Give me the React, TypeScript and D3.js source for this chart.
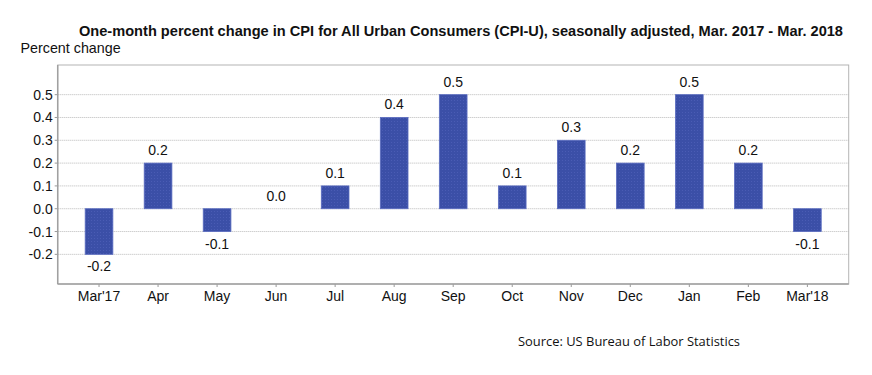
import React from "react";
import * as d3 from "d3";

const categories = ["Mar'17", "Apr", "May", "Jun", "Jul", "Aug", "Sep", "Oct", "Nov", "Dec", "Jan", "Feb", "Mar'18"];
const values = [-0.2, 0.2, -0.1, 0.0, 0.1, 0.4, 0.5, 0.1, 0.3, 0.2, 0.5, 0.2, -0.1];
const yTicks = [-0.2, -0.1, 0.0, 0.1, 0.2, 0.3, 0.4, 0.5];
const title = "One-month percent change in CPI for All Urban Consumers (CPI-U), seasonally adjusted, Mar. 2017 - Mar. 2018";

const W = 872, H = 375;
const L = 57.7, R = 848.7, T = 65, B = 284;

export default function App() {
  const x = d3.scalePoint<string>().domain(categories).range([L, R]).padding(0.7);
  const y = d3.scaleLinear().domain([-0.33, 0.63]).range([B, T]);
  const bw = 27.7;
  const font = "Arial, 'Liberation Sans', sans-serif";
  return (
    <svg width={W} height={H} style={{ position: "absolute", left: 0, top: 0, background: "#fff" }} fontFamily={font}>
      <defs>
        <pattern id="dots" width="3" height="3" patternUnits="userSpaceOnUse">
          <rect width="3" height="3" fill="#3b4fa7" />
          <rect x="1" y="1" width="1" height="1" fill="#4a5cb4" />
        </pattern>
      </defs>
      <text x={79} y={35.5} fontWeight="bold" fontSize={14} fill="#111" textLength={764} lengthAdjust="spacingAndGlyphs">{title}</text>
      <text x={20.5} y={53} fontSize={14.3} fill="#111">Percent change</text>
      <rect x={L} y={T} width={R - L} height={B - T} fill="none" stroke="#b4b4b4" strokeWidth={1} />
      {yTicks.map((t) => (
        <g key={t}>
          <line x1={L} x2={R} y1={y(t)} y2={y(t)} stroke="#b8b8b8" strokeWidth={1} strokeDasharray="1,1" />
          <line x1={L - 3} x2={L} y1={y(t)} y2={y(t)} stroke="#999" />
          <text x={52.7} y={y(t) + 5} textAnchor="end" fontSize={14} fill="#111">{t.toFixed(1)}</text>
        </g>
      ))}
      {categories.map((c, i) => {
        const v = values[i];
        const cx = x(c)!;
        const y0 = y(0), y1 = y(v);
        return (
          <g key={c}>
            {v !== 0 && (
              <rect x={cx - bw / 2} y={Math.min(y0, y1)} width={bw} height={Math.abs(y1 - y0)} fill="url(#dots)" stroke="#5a6cc0" strokeWidth={0.8} />
            )}
            <text x={cx} y={v >= 0 ? y1 - 8 : y1 + 17} textAnchor="middle" fontSize={14} fill="#111">{v.toFixed(1)}</text>
            <line x1={cx} x2={cx} y1={B} y2={B + 3} stroke="#999" />
            <text x={cx} y={300.5} textAnchor="middle" fontSize={14} fill="#111">{c}</text>
          </g>
        );
      })}
      <line x1={L} x2={L} y1={T} y2={B} stroke="#a0a0a0" strokeWidth={1.5} />
      <line x1={L} x2={R} y1={B} y2={B} stroke="#a0a0a0" strokeWidth={1.5} />
      <text x={518} y={346} fontSize={13} fill="#111" fontFamily="'Open Sans', 'Liberation Sans', sans-serif" textLength={222} lengthAdjust="spacingAndGlyphs">Source: US Bureau of Labor Statistics</text>
    </svg>
  );
}
